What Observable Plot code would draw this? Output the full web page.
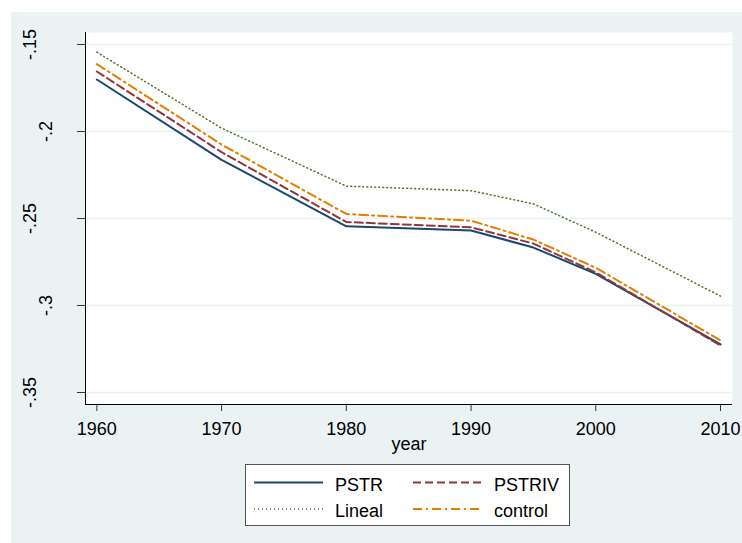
<!DOCTYPE html>
<html>
<head>
<meta charset="utf-8">
<script src="https://cdn.jsdelivr.net/npm/d3@7"></script>
<script src="https://cdn.jsdelivr.net/npm/@observablehq/plot@0.6"></script>
<style>
  html, body { margin: 0; padding: 0; background: #ffffff; }
  #wrap { position: relative; width: 742px; height: 543px; background: #ffffff; overflow: hidden;
          font-family: "Liberation Sans", Arial, Helvetica, sans-serif; }
  #bg { position: absolute; left: 11px; top: 12px; width: 731px; height: 531px; background: #eaf2f3; }
  #chart { position: absolute; left: 0; top: 0; }
  #legend { position: absolute; left: 245px; top: 464px; width: 323px; height: 60px;
            background: #ffffff; border: 1px solid #555555; }
  #legend svg { display: block; }
</style>
</head>
<body>
<div id="wrap">
  <div id="bg"></div>
  <div id="chart"></div>
  <div id="legend"></div>
</div>
<script>
// ---- data ----
const years = [1960, 1970, 1980, 1990, 1995, 2000, 2010];
const PSTR    = [-0.1701, -0.2163, -0.2545, -0.2569, -0.2667, -0.2818, -0.3224];
const PSTRIV  = [-0.1655, -0.2119, -0.2520, -0.2551, -0.2644, -0.2810, -0.3230];
const Lineal  = [-0.1544, -0.1981, -0.2314, -0.2340, -0.2416, -0.2579, -0.2946];
const control = [-0.1613, -0.2075, -0.2474, -0.2513, -0.2621, -0.2783, -0.3201];

const seriesNames = ["PSTR", "PSTRIV", "Lineal", "control"];
const seriesValues = [PSTR, PSTRIV, Lineal, control];
const seriesColors = ["#1a476f", "#90353b", "#55752f", "#e37e00"];
const seriesDash = [null, "8,4", "1,3", "9,4,2,4"];
const seriesWidth = [2, 2, 1.5, 2];

const xTicks = [1960, 1970, 1980, 1990, 2000, 2010];
const yTicks = [-0.15, -0.2, -0.25, -0.3, -0.35];
const xTitle = "year";

const xDomain = [1959.09, 2010.96];
const yDomain = [-0.3569, -0.1431];

const fmtY = d => String(+d.toFixed(2)).replace("0.", ".");

const rows = [];
seriesNames.forEach((name, i) => {
  years.forEach((yr, j) => rows.push({series: name, year: yr, value: seriesValues[i][j]}));
});

const FONT = 18;

const lineMarks = seriesNames.map((name, i) =>
  Plot.line(rows.filter(r => r.series === name), {
    x: "year", y: "value",
    stroke: seriesColors[i],
    strokeWidth: seriesWidth[i],
    strokeDasharray: seriesDash[i] || undefined,
    strokeLinejoin: "round"
  })
);

const chart = Plot.plot({
  width: 742,
  height: 460,
  marginLeft: 85,
  marginRight: 10,
  marginTop: 32,
  marginBottom: 56,
  style: { background: "transparent", fontFamily: "'Liberation Sans', Arial, Helvetica, sans-serif", overflow: "visible" },
  x: { type: "linear", domain: xDomain, label: null },
  y: { type: "linear", domain: yDomain, label: null },
  marks: [
    Plot.frame({ fill: "white", stroke: null }),
    Plot.gridY(yTicks, { stroke: "#eaf2f3", strokeOpacity: 1, strokeWidth: 1.6 }),
    ...lineMarks,
    Plot.ruleX([xDomain[0]], { stroke: "black", strokeWidth: 1 }),
    Plot.ruleY([yDomain[0]], { stroke: "black", strokeWidth: 1 }),
    Plot.axisY({ ticks: yTicks, tickSize: 8, tickFormat: () => "", label: null, stroke: "#333", strokeWidth: 1 }),
    Plot.axisX({ ticks: xTicks, tickSize: 7, tickFormat: () => "", label: null, stroke: "#333", strokeWidth: 1 }),
    Plot.text(yTicks.filter(d => fmtY(d).length >= 4), {
      y: d => d, text: fmtY, frameAnchor: "left", rotate: -90,
      textAnchor: "middle", lineAnchor: "bottom", dx: -50, fontSize: FONT, fill: "black"
    }),
    Plot.text(yTicks.filter(d => fmtY(d).length < 4), {
      y: d => d, text: fmtY, frameAnchor: "left", rotate: -90,
      textAnchor: "middle", lineAnchor: "bottom", dx: -34, fontSize: FONT, fill: "black"
    }),
    Plot.text(xTicks, {
      x: d => d, text: d => String(d), frameAnchor: "bottom",
      lineAnchor: "bottom", dy: 30, fontSize: FONT, fill: "black"
    }),
    Plot.text([xTitle], {
      text: d => d, frameAnchor: "bottom", lineAnchor: "bottom", dy: 45, fontSize: FONT, fill: "black"
    })
  ]
});
document.getElementById("chart").appendChild(chart);

// ---- legend ----
const legendPos = [
  {lx1: 8, lx2: 77, tx: 89, ly: 17.5, ty: 25.5},
  {lx1: 167, lx2: 237, tx: 248, ly: 17.5, ty: 25.5},
  {lx1: 8, lx2: 77, tx: 89, ly: 44, ty: 51.5},
  {lx1: 167, lx2: 237, tx: 248, ly: 44, ty: 51.5}
];
const lsvg = d3.select("#legend").append("svg").attr("width", 323).attr("height", 60);
seriesNames.forEach((name, i) => {
  const p = legendPos[i];
  lsvg.append("line")
    .attr("x1", p.lx1).attr("x2", p.lx2).attr("y1", p.ly).attr("y2", p.ly)
    .attr("stroke", seriesColors[i]).attr("stroke-width", seriesWidth[i])
    .attr("stroke-dasharray", seriesDash[i]);
  lsvg.append("text")
    .attr("x", p.tx).attr("y", p.ty)
    .attr("font-size", FONT)
    .attr("font-family", "'Liberation Sans', Arial, Helvetica, sans-serif")
    .attr("fill", "black")
    .text(name);
});
</script>
</body>
</html>
